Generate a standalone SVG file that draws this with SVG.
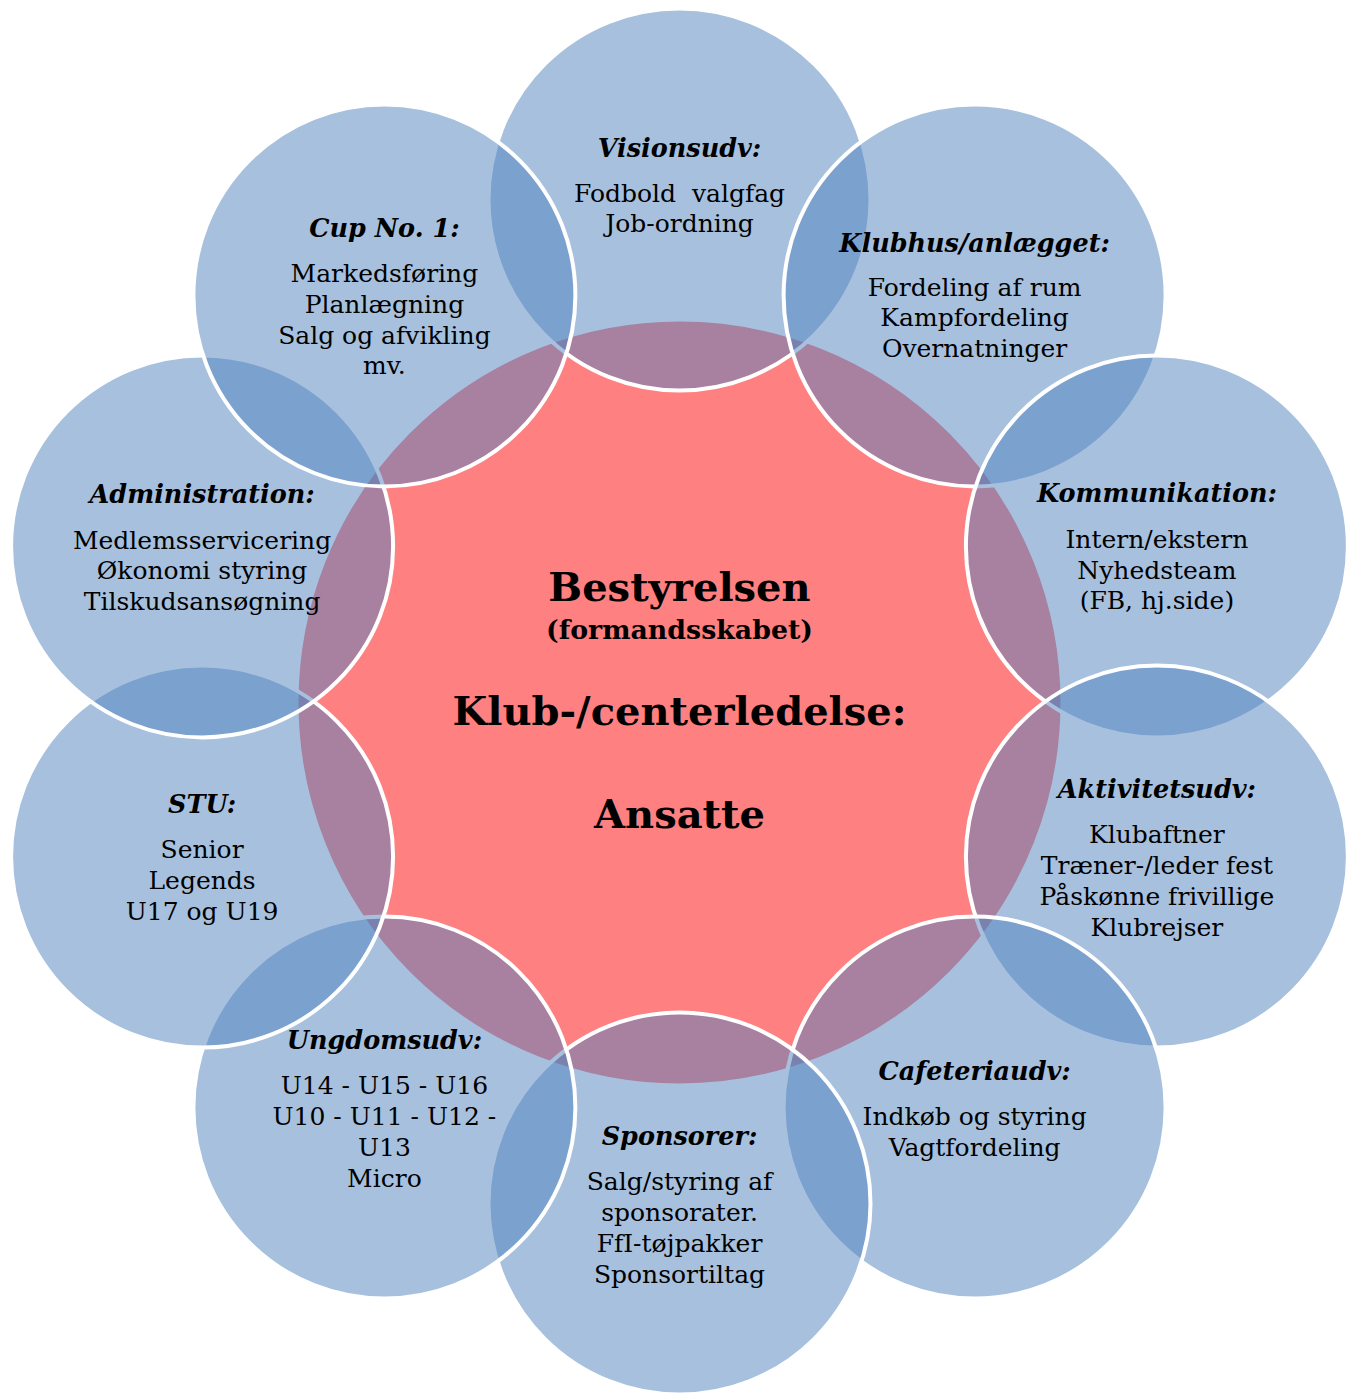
<svg xmlns="http://www.w3.org/2000/svg" width="1359" height="1394" viewBox="0 0 1359 1394">
<style>
.bg{fill:#ffffff}
.core{fill:#FF8080;stroke:#ffffff;stroke-width:4}
.outer{fill:#4F81BD;fill-opacity:0.5;stroke:#ffffff;stroke-width:4}
text{font-family:"DejaVu Serif","Liberation Serif",serif;fill:#000000;text-anchor:middle}
.h{font-weight:bold;font-style:italic;font-size:25.5px}
.b{font-size:25px;white-space:pre}
.t{font-weight:bold;font-size:40px}
.s{font-weight:bold;font-size:26.8px}
</style>
<rect class="bg" x="0" y="0" width="1359" height="1394"/>
<g id="connectors"/>
<g id="center">
<circle class="core" cx="679.5" cy="702.5" r="383"/>
<text class="t" x="679.5" y="601">Bestyrelsen</text>
<text class="s" x="679.5" y="639">(formandsskabet)</text>
<text class="t" x="679.5" y="725">Klub-/centerledelse:</text>
<text class="t" x="679.5" y="828">Ansatte</text>
</g>
<g id="visionsudv">
<circle class="outer" cx="679.5" cy="199.5" r="191"/>
<text class="h" x="679.5" y="157">Visionsudv:</text>
<text class="b" x="679.5" y="202" xml:space="preserve">Fodbold  valgfag</text>
<text class="b" x="679.5" y="232">Job-ordning</text>
</g>
<g id="klubhus">
<circle class="outer" cx="974.6" cy="295.4" r="191"/>
<text class="h" x="974.6" y="252">Klubhus/anlægget:</text>
<text class="b" x="974.6" y="296">Fordeling af rum</text>
<text class="b" x="974.6" y="326">Kampfordeling</text>
<text class="b" x="974.6" y="357">Overnatninger</text>
</g>
<g id="kommunikation">
<circle class="outer" cx="1156.9" cy="546.4" r="191"/>
<text class="h" x="1156.9" y="502">Kommunikation:</text>
<text class="b" x="1156.9" y="548">Intern/ekstern</text>
<text class="b" x="1156.9" y="579">Nyhedsteam</text>
<text class="b" x="1156.9" y="609">(FB, hj.side)</text>
</g>
<g id="aktivitetsudv">
<circle class="outer" cx="1156.9" cy="856.6" r="191"/>
<text class="h" x="1156.9" y="798">Aktivitetsudv:</text>
<text class="b" x="1156.9" y="843">Klubaftner</text>
<text class="b" x="1156.9" y="874">Træner-/leder fest</text>
<text class="b" x="1156.9" y="905">Påskønne frivillige</text>
<text class="b" x="1156.9" y="936">Klubrejser</text>
</g>
<g id="cafeteriaudv">
<circle class="outer" cx="974.6" cy="1107.6" r="191"/>
<text class="h" x="974.6" y="1080">Cafeteriaudv:</text>
<text class="b" x="974.6" y="1125">Indkøb og styring</text>
<text class="b" x="974.6" y="1156">Vagtfordeling</text>
</g>
<g id="sponsorer">
<circle class="outer" cx="679.5" cy="1203.5" r="191"/>
<text class="h" x="679.5" y="1145">Sponsorer:</text>
<text class="b" x="679.5" y="1190">Salg/styring af</text>
<text class="b" x="679.5" y="1221">sponsorater.</text>
<text class="b" x="679.5" y="1252">FfI-tøjpakker</text>
<text class="b" x="679.5" y="1283">Sponsortiltag</text>
</g>
<g id="ungdomsudv">
<circle class="outer" cx="384.4" cy="1107.6" r="191"/>
<text class="h" x="384.4" y="1049">Ungdomsudv:</text>
<text class="b" x="384.4" y="1094">U14 - U15 - U16</text>
<text class="b" x="384.4" y="1125">U10 - U11 - U12 -</text>
<text class="b" x="384.4" y="1156">U13</text>
<text class="b" x="384.4" y="1187">Micro</text>
</g>
<g id="stu">
<circle class="outer" cx="202.1" cy="856.6" r="191"/>
<text class="h" x="202.1" y="813">STU:</text>
<text class="b" x="202.1" y="858">Senior</text>
<text class="b" x="202.1" y="889">Legends</text>
<text class="b" x="202.1" y="920">U17 og U19</text>
</g>
<g id="administration">
<circle class="outer" cx="202.1" cy="546.4" r="191"/>
<text class="h" x="202.1" y="503">Administration:</text>
<text class="b" x="202.1" y="549">Medlemsservicering</text>
<text class="b" x="202.1" y="579">Økonomi styring</text>
<text class="b" x="202.1" y="610">Tilskudsansøgning</text>
</g>
<g id="cup">
<circle class="outer" cx="384.4" cy="295.4" r="191"/>
<text class="h" x="384.4" y="237">Cup No. 1:</text>
<text class="b" x="384.4" y="282">Markedsføring</text>
<text class="b" x="384.4" y="313">Planlægning</text>
<text class="b" x="384.4" y="344">Salg og afvikling</text>
<text class="b" x="384.4" y="374">mv.</text>
</g>
</svg>
